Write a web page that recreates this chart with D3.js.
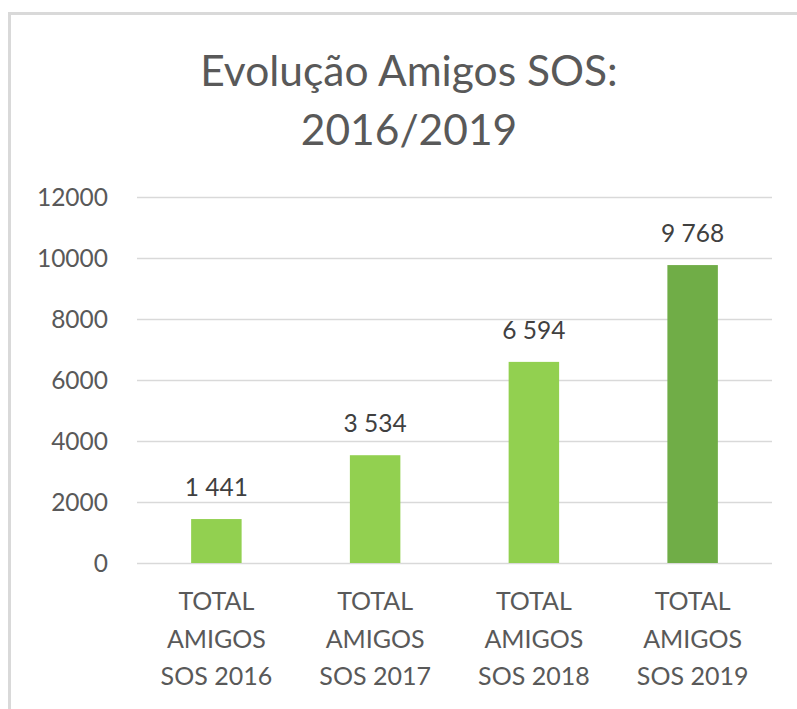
<!DOCTYPE html>
<html>
<head>
<meta charset="utf-8">
<title>Evolução Amigos SOS</title>
<style>
  body { margin: 0; background: #fff; }
  text { font-family: Lato, "Noto Sans", sans-serif; }
</style>
<script src="https://cdn.jsdelivr.net/npm/d3@7/dist/d3.min.js"></script>
</head>
<body>
<svg width="797" height="709"></svg>
<script>
// dados
var categories = ["TOTAL AMIGOS SOS 2016", "TOTAL AMIGOS SOS 2017", "TOTAL AMIGOS SOS 2018", "TOTAL AMIGOS SOS 2019"];
var categoryLines = [["TOTAL", "AMIGOS", "SOS 2016"], ["TOTAL", "AMIGOS", "SOS 2017"], ["TOTAL", "AMIGOS", "SOS 2018"], ["TOTAL", "AMIGOS", "SOS 2019"]];
var values = [1441, 3534, 6594, 9768];
var barColors = ["#92D050", "#92D050", "#92D050", "#70AD47"];
var yTicks = [0, 2000, 4000, 6000, 8000, 10000, 12000];
var titleLines = ["Evolução Amigos SOS:", "2016/2019"];

var svg = d3.select("svg");
var plot = {left: 137, right: 772, top: 197, bottom: 563};

// moldura do gráfico
svg.append("rect")
  .attr("x", 9.5).attr("y", 13.5)
  .attr("width", 820).attr("height", 720)
  .attr("fill", "#fff")
  .attr("stroke", "#D9D9D9")
  .attr("stroke-width", 3);

var x = d3.scaleBand()
  .domain(categories)
  .range([plot.left, plot.right])
  .paddingInner(0.682)
  .paddingOuter(0.341);

var y = d3.scaleLinear()
  .domain([0, 12000])
  .range([plot.bottom, plot.top]);

var fmt = d3.formatLocale({decimal: ",", thousands: " ", grouping: [3], currency: ["", "€"]}).format(",d");

// título
svg.append("g").selectAll("text")
  .data(titleLines)
  .enter().append("text")
  .attr("x", 409)
  .attr("y", (d, i) => 86 + i * 59)
  .attr("text-anchor", "middle")
  .attr("font-size", 42.5)
  .attr("fill", "#595959")
  .text(d => d);

// eixo y + linhas de grade
var yAxis = svg.append("g")
  .attr("transform", "translate(" + plot.left + ",0)")
  .call(d3.axisLeft(y)
    .tickValues(yTicks)
    .tickSize(-(plot.right - plot.left))
    .tickPadding(29)
    .tickFormat(d3.format("d")));
yAxis.select(".domain").remove();
yAxis.selectAll(".tick line").attr("stroke", "#D9D9D9").attr("stroke-width", 1.5);
yAxis.selectAll(".tick text")
  .attr("font-size", 24.5)
  .attr("fill", "#595959")
  .attr("dy", "0.36em");

// barras
svg.append("g").selectAll("rect")
  .data(values)
  .enter().append("rect")
  .attr("x", (d, i) => x(categories[i]))
  .attr("y", d => y(d))
  .attr("width", x.bandwidth())
  .attr("height", d => y(0) - y(d))
  .attr("fill", (d, i) => barColors[i]);

// rótulos de dados
svg.append("g").selectAll("text")
  .data(values)
  .enter().append("text")
  .attr("x", (d, i) => x(categories[i]) + x.bandwidth() / 2)
  .attr("y", d => y(d) - 23)
  .attr("text-anchor", "middle")
  .attr("font-size", 24.5)
  .attr("fill", "#404040")
  .text(d => fmt(d));

// categorias (3 linhas)
var cat = svg.append("g").selectAll("text")
  .data(categories)
  .enter().append("text")
  .attr("text-anchor", "middle")
  .attr("font-size", 25)
  .attr("fill", "#595959");
cat.selectAll("tspan")
  .data((d, i) => categoryLines[i].map(t => ({t: t, c: d})))
  .enter().append("tspan")
  .attr("x", d => x(d.c) + x.bandwidth() / 2)
  .attr("y", (d, j) => 610 + j * 37.7)
  .text(d => d.t);
</script>
</body>
</html>
